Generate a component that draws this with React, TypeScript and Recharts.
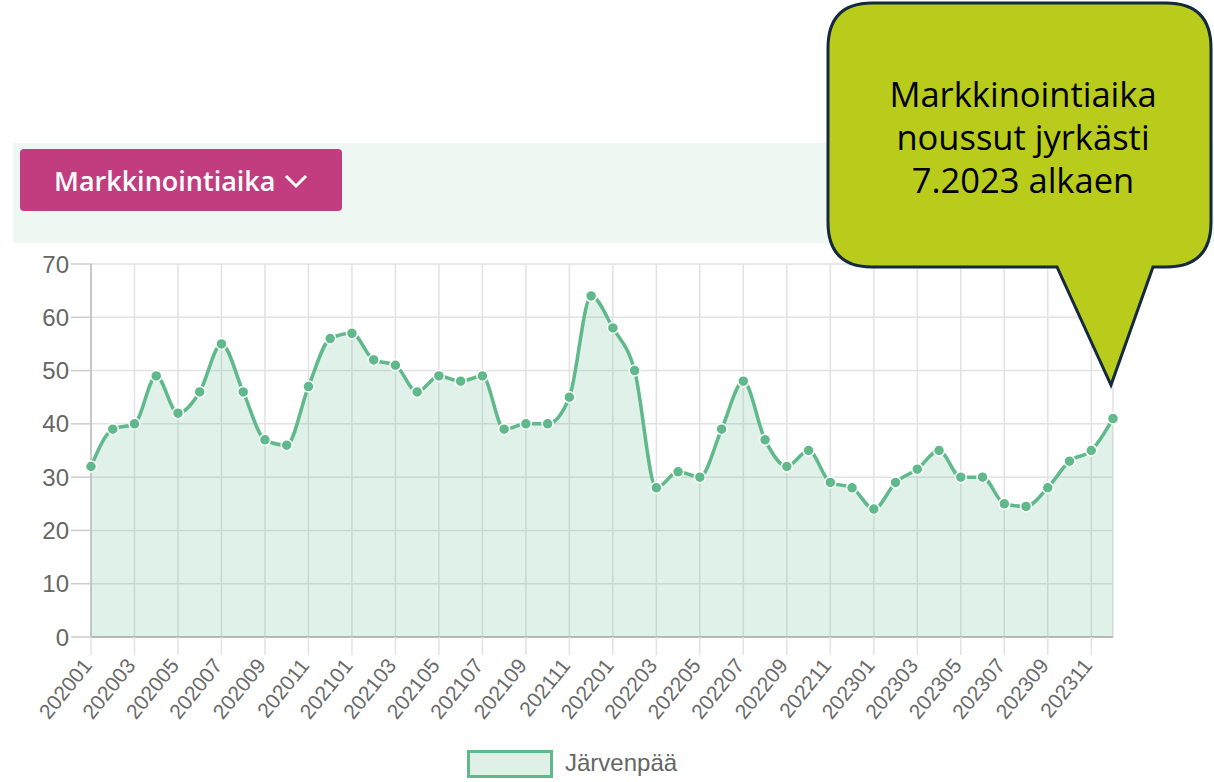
import React from "react";
import {
  AreaChart,
  Area,
  XAxis,
  YAxis,
  CartesianGrid,
} from "recharts";

// months 202001..202312
const months = [
  "202001", "202002", "202003", "202004", "202005", "202006",
  "202007", "202008", "202009", "202010", "202011", "202012",
  "202101", "202102", "202103", "202104", "202105", "202106",
  "202107", "202108", "202109", "202110", "202111", "202112",
  "202201", "202202", "202203", "202204", "202205", "202206",
  "202207", "202208", "202209", "202210", "202211", "202212",
  "202301", "202302", "202303", "202304", "202305", "202306",
  "202307", "202308", "202309", "202310", "202311", "202312",
];

const jarvenpaa = [
  32, 39, 40, 49, 42, 46, 55, 46, 37, 36, 47, 56,
  57, 52, 51, 46, 49, 48, 49, 39, 40, 40, 45, 64,
  58, 50, 28, 31, 30, 39, 48, 37, 32, 35, 29, 28,
  24, 29, 31.5, 35, 30, 30, 25, 24.5, 28, 33, 35, 41,
];

const xTicks = [
  "202001", "202003", "202005", "202007", "202009", "202011",
  "202101", "202103", "202105", "202107", "202109", "202111",
  "202201", "202203", "202205", "202207", "202209", "202211",
  "202301", "202303", "202305", "202307", "202309", "202311",
];

const yTicks = [0, 10, 20, 30, 40, 50, 60, 70];

const seriesName = "Järvenpää";
const buttonLabel = "Markkinointiaika";
const calloutLines = ["Markkinointiaika", "noussut jyrkästi", "7.2023 alkaen"];

const GREEN = "#5fb98b";
const FILL = "#dff1e7";
const AXIS_FONT = "'Liberation Sans', Arial, sans-serif";

const data = months.map((m, i) => ({ month: m, value: jarvenpaa[i] }));

function RotatedTick({ x, y, payload }: { x?: number; y?: number; payload?: { value: string } }) {
  return (
    <g transform={`translate(${(x ?? 0) + 2},${(y ?? 0) + 7}) rotate(-51)`}>
      <text
        x={0}
        y={0}
        textAnchor="end"
        fontSize={21}
        fill="#6a6a6a"
        fontFamily={AXIS_FONT}
      >
        {payload?.value}
      </text>
    </g>
  );
}

export default function App() {
  return (
    <div
      style={{
        position: "absolute",
        left: 0,
        top: 0,
        width: 1214,
        height: 782,
        overflow: "hidden",
        background: "#fff",
      }}
    >
      {/* filter panel */}
      <div
        style={{
          position: "absolute",
          left: 13,
          top: 143,
          width: 1201,
          height: 100,
          background: "#eef7f1",
        }}
      />
      <div
        style={{
          position: "absolute",
          left: 20,
          top: 149,
          width: 322,
          height: 62,
          background: "#c23d80",
          borderRadius: 4,
          color: "#fff",
          fontFamily: "'Open Sans', sans-serif",
          fontWeight: 600,
          fontSize: 27,
          display: "flex",
          alignItems: "center",
          paddingLeft: 34,
          boxSizing: "border-box",
        }}
      >
        <span>{buttonLabel}</span>
        <svg width={28} height={18} style={{ marginLeft: 8, marginTop: 2 }}>
          <polyline points="3,4 13,14 23,4" fill="none" stroke="#fff" strokeWidth={3} />
        </svg>
      </div>

      {/* chart */}
      <div style={{ position: "absolute", left: 0, top: 250 }}>
        <AreaChart
          width={1214}
          height={532}
          data={data}
          margin={{ top: 14, right: 101, left: 0, bottom: 35 }}
        >
          <CartesianGrid stroke="#e2e2e2" strokeWidth={1.5} />
          <XAxis
            dataKey="month"
            ticks={xTicks}
            interval={0}
            height={110}
            tickSize={18}
            tickMargin={4}
            axisLine={{ stroke: "#aaa", strokeWidth: 1.5 }}
            tickLine={{ stroke: "#e2e2e2", strokeWidth: 1.5 }}
            tick={<RotatedTick />}
          />
          <YAxis
            domain={[0, 70]}
            ticks={yTicks}
            width={91}
            tickSize={20}
            tickMargin={2}
            axisLine={{ stroke: "#bbb", strokeWidth: 1.5 }}
            tickLine={{ stroke: "#ccc", strokeWidth: 1.5 }}
            tick={{ fontSize: 24, fill: "#666", fontFamily: AXIS_FONT }}
          />
          <Area
            type="monotone"
            dataKey="value"
            name={seriesName}
            stroke={GREEN}
            strokeWidth={3.5}
            fill={GREEN}
            fillOpacity={0.2}
            dot={{ r: 5.5, fill: GREEN, stroke: "#fff", strokeWidth: 1.5, fillOpacity: 1 }}
            activeDot={false}
            isAnimationActive={false}
          />
        </AreaChart>
      </div>

      {/* legend */}
      <div
        style={{
          position: "absolute",
          left: 467,
          top: 750,
          width: 86,
          height: 28,
          border: `3px solid ${GREEN}`,
          background: FILL,
          boxSizing: "border-box",
        }}
      />
      <div
        style={{
          position: "absolute",
          left: 565,
          top: 749,
          fontFamily: AXIS_FONT,
          fontSize: 24,
          color: "#666",
          lineHeight: "28px",
        }}
      >
        {seriesName}
      </div>

      {/* callout */}
      <svg
        width={1214}
        height={782}
        style={{ position: "absolute", left: 0, top: 0, pointerEvents: "none" }}
      >
        <path
          d="M 872 3 H 1166 Q 1211 3 1211 48 V 222 Q 1211 267 1166 267 H 1153 L 1111 385 L 1057 267 H 872 Q 828 267 828 222 V 48 Q 828 3 872 3 Z"
          fill="#b9cc1b"
          stroke="#14283f"
          strokeWidth={3}
        />
        {calloutLines.map((line, i) => (
          <text
            key={line}
            x={1023}
            y={107 + i * 43}
            textAnchor="middle"
            fontSize={34.5}
            fill="#000"
            fontFamily="'Open Sans', sans-serif"
          >
            {line}
          </text>
        ))}
      </svg>
    </div>
  );
}
